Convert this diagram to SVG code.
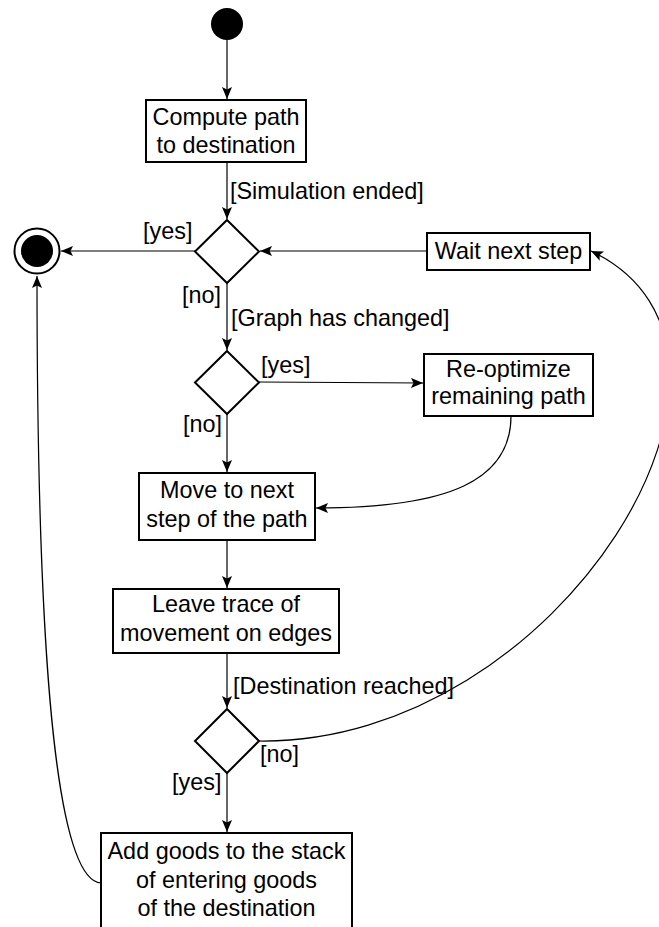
<svg xmlns="http://www.w3.org/2000/svg" width="659" height="927" viewBox="0 0 659 927">
<style>
.box{fill:#fff;stroke:#000;stroke-width:2}
.dia{fill:#fff;stroke:#000;stroke-width:2}
.t{font-family:"Liberation Sans",Arial,sans-serif;font-size:23.4px;fill:#000}
.c{text-anchor:middle}
.e{fill:none;stroke:#000;stroke-width:1.2}
</style>
<defs>
<marker id="a" markerUnits="userSpaceOnUse" markerWidth="14" markerHeight="12" refX="12" refY="5" orient="auto">
<path d="M0,0 L12,5 L0,10 L2.5,5 z" fill="#000"/>
</marker>
</defs>
<rect width="659" height="927" fill="#fff"/>
<g id="edges">
<path class="e" d="M227,40 L227,99" marker-end="url(#a)"/>
<path class="e" d="M227,162 L227,219" marker-end="url(#a)"/>
<path class="e" d="M195,251 L61,251" marker-end="url(#a)"/>
<path class="e" d="M427,251 L260,251" marker-end="url(#a)"/>
<path class="e" d="M227,283 L227,350" marker-end="url(#a)"/>
<path class="e" d="M259,382 L423,383" marker-end="url(#a)"/>
<path class="e" d="M227,414 L227,472" marker-end="url(#a)"/>
<path class="e" d="M511,416 C511,480 450,508 316,508" marker-end="url(#a)"/>
<path class="e" d="M227,540 L227,588" marker-end="url(#a)"/>
<path class="e" d="M227,653 L227,708" marker-end="url(#a)"/>
<path class="e" d="M227,773 L227,832" marker-end="url(#a)"/>
<path class="e" d="M259,741 C560,745 800,350 591,251" marker-end="url(#a)"/>
<path class="e" d="M101,883 C50,880 37,600 37,276" marker-end="url(#a)"/>
<text class="t" x="230" y="199">[Simulation ended]</text>
<text class="t" x="143" y="239">[yes]</text>
<text class="t" x="182" y="303">[no]</text>
<text class="t" x="231" y="326">[Graph has changed]</text>
<text class="t" x="261" y="373">[yes]</text>
<text class="t" x="183" y="432">[no]</text>
<text class="t" x="233" y="694">[Destination reached]</text>
<text class="t" x="260" y="762">[no]</text>
<text class="t" x="172" y="790">[yes]</text>
</g>
<g id="start"><circle cx="227" cy="24" r="16" fill="#000"/></g>
<g id="end"><circle cx="37" cy="251" r="22.5" fill="#fff" stroke="#000" stroke-width="2"/><circle cx="37" cy="251" r="16" fill="#000"/></g>
<g id="compute"><rect class="box" x="146" y="100" width="160" height="62"/><text class="t c" x="226" y="125">Compute path</text><text class="t c" x="226" y="153">to destination</text></g>
<g id="d1"><path class="dia" d="M227,220 L259,251.5 L227,283 L195,251.5 z"/></g>
<g id="wait"><rect class="box" x="427" y="233" width="163" height="37"/><text class="t c" x="508.5" y="259">Wait next step</text></g>
<g id="d2"><path class="dia" d="M227,351 L259,382.5 L227,414 L195,382.5 z"/></g>
<g id="reopt"><rect class="box" x="424" y="354" width="169" height="62"/><text class="t c" x="508.5" y="377">Re-optimize</text><text class="t c" x="508.5" y="404">remaining path</text></g>
<g id="move"><rect class="box" x="139" y="473" width="176" height="67"/><text class="t c" x="227" y="498">Move to next</text><text class="t c" x="227" y="527">step of the path</text></g>
<g id="leave"><rect class="box" x="113" y="589" width="226" height="64"/><text class="t c" x="226" y="612">Leave trace of</text><text class="t c" x="226" y="641">movement on edges</text></g>
<g id="d3"><path class="dia" d="M227,709 L259,741 L227,773 L195,741 z"/></g>
<g id="add"><rect class="box" x="101" y="833" width="251" height="110"/><text class="t c" x="226.5" y="859">Add goods to the stack</text><text class="t c" x="226.5" y="888">of entering goods</text><text class="t c" x="226.5" y="916">of the destination</text></g>
</svg>
